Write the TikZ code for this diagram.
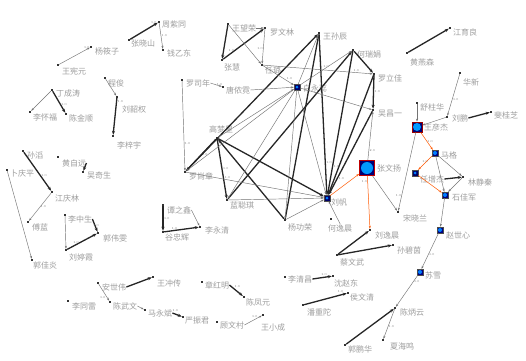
\documentclass[tikz,border=0pt]{standalone}
\usepackage{fontspec}
\newfontfamily\cjk{Noto Sans CJK SC}
\usetikzlibrary{arrows.meta}
\newcommand\mk[5][dot]{\node[#1] (#2) at (#3) {}; \node[lab] (#2t) at (#4) {#5};}
\begin{document}
\begin{tikzpicture}[x=1pt,y=-1pt,
  dot/.style={rectangle,fill=black!80,inner sep=0,minimum size=2pt},
  lab/.style={font=\cjk\fontsize{8}{8}\selectfont,text=black!38,anchor=west,inner sep=0},
  e/.style={draw=black!55,line width=0.45pt,-{Stealth[length=3pt,width=2pt]}},
  E/.style={draw=black!85,line width=1.3pt,-{Stealth[length=4pt,width=3pt]}},
  o/.style={draw=orange!70!red,line width=0.5pt,-{Stealth[length=3pt,width=2pt]}},
  el/.style={font=\fontsize{3}{3}\selectfont,text=black!60,inner sep=0.5pt},
  big/.style={rectangle,draw=red!75!black,line width=0.8pt,fill=blue!45!black,minimum size=15pt,inner sep=0,
    path picture={\fill[blue!40!cyan] (path picture bounding box.center) circle (6pt);}},
  mid/.style={rectangle,draw=red!60!black,line width=0.6pt,fill=blue!45!black,minimum size=10pt,inner sep=0,
    path picture={\fill[blue!40!cyan] (path picture bounding box.center) circle (4pt);}},
  sq/.style={rectangle,draw=black!70,line width=0.4pt,fill=blue!50!black,minimum size=6pt,inner sep=0,
    path picture={\fill[blue!50!cyan] (path picture bounding box.center) circle (2pt);}},
  sqs/.style={rectangle,draw=black!70,line width=0.4pt,fill=blue!40!black,minimum size=6pt,inner sep=0,
    path picture={\fill[blue!50!cyan] (path picture bounding box.center) circle (1.5pt);}}
]
\useasboundingbox[fill=white] (0,0) rectangle (526,360);
% ---------- nodes: top left
\mk{zxs}{129,40}{131,43}{张晓山}
\mk{zzt}{159,22}{162,24}{周紫同}
\mk{qyd}{163,50}{167,53}{钱乙东}
\mk{yxz}{91,47}{95,51}{杨筱子}
\mk{wxy}{58,65}{62,71}{王宪元}
\mk{dct}{52,90}{56,93}{丁成涛}
\mk{lhf}{30,112}{33,117}{李怀福}
\mk{cjs}{66,114}{69,118}{陈金顺}
\mk{cj}{105,78}{108,83}{程俊}
\mk{lsq}{117,97}{122,109}{刘韶权}
\mk{lzy}{113,136}{117,145}{李梓宇}
% top middle
\mk{wwr}{228,24}{232,28}{王望荣}
\mk{zh}{222,60}{224,67}{张慧}
\mk{rwl}{265,28}{270,32}{罗文林}
\mk{rl}{262,65}{265,70}{任璐}
\mk{ls}{182,80}{186,83}{罗司年}
\mk{tnn}{223,87}{226,90}{唐侬霓}
% centre
\mk{W}{319,33}{323,37}{王孙辰}
\mk{H}{353,50}{357,54}{何瑞娟}
\mk{L}{374,74}{378,78}{罗立佳}
\mk[sqs]{B}{297,87}{303,88}{白永蕊}
\mk{Wu}{373,110}{378,114}{吴昌一}
\mk{G}{217,138}{209,129}{高梦星}
\mk{S}{185,172}{189,176}{罗尚章}
\mk{Lan}{227,200}{230,205}{蓝聪琪}
\mk[sqs]{F}{327,198}{331,202}{刘帆}
\mk{Y}{285,220}{288,227}{杨功荣}
\mk{Sun}{331,219}{328,228}{何逸晨}
\mk[big]{Z}{367,168}{377,168}{张文扬}
\mk{Liu}{370,230}{375,235}{刘逸晨}
% right
\mk{jys}{450,28}{453,32}{江育良}
\mk{hys}{407,53}{410,62}{黄燕森}
\mk{hx}{460,73}{463,82}{华新}
\mk{szh}{417,103}{420,107}{舒柱华}
\mk{lp}{447,117}{452,118}{刘鹏}
\mk{fgz}{491,112}{494,115}{斐桂芝}
\mk[mid]{wyj}{417,127}{424,127}{王彦杰}
\mk[sq]{mg}{435,153}{441,155}{马格}
\mk[sqs]{rzj}{415,173}{420,179}{任增杰}
\mk{ljq}{463,177}{468,182}{林静秦}
\mk[sq]{sjj}{445,195}{452,197}{石佳军}
\mk[sq]{zsx}{440,230}{446,235}{赵世心}
\mk{sxl}{398,212}{403,218}{宋晓兰}
\mk{sbt}{393,245}{397,250}{孙碧茵}
\mk[sq]{sx}{420,272}{425,275}{苏雪}
\mk{cby}{395,308}{400,312}{陈炳云}
\mk{xhm}{383,340}{390,346}{夏海鸣}
\mk{gph}{345,345}{348,349}{郭鹏华}
\mk{cww}{337,255}{340,262}{蔡文武}
\mk{lqc}{285,277}{288,279}{李清昌}
\mk{szd}{333,276}{334,283}{沈赵东}
\mk{hwq}{348,293}{350,297}{侯文清}
\mk{pzt}{303,305}{307,312}{潘重陀}
% bottom left
\mk{zhm}{202,282}{205,285}{章红明}
\mk{cfy}{244,297}{246,302}{陈凤元}
\mk{wct}{153,277}{157,283}{王冲传}
\mk{msb}{145,310}{148,313}{马永斌}
\mk{yzj}{183,317}{185,320}{严振君}
\mk{gwc}{217,322}{220,325}{顾文村}
\mk{wxc}{263,315}{261,327}{王小成}
\mk{asw}{98,283}{102,287}{安世伟}
\mk{ltl}{68,301}{72,306}{李同雷}
\mk{cwx}{110,302}{113,306}{陈武文}
% left middle
\mk{st}{23,151}{27,155}{孙滔}
\mk{hzy}{58,157}{62,163}{黄自远}
\mk{wqs}{83,172}{87,175}{吴奇生}
\mk{bqp}{7,170}{10,173}{卜庆平}
\mk{jql}{52,192}{55,198}{江庆林}
\mk{fl}{28,222}{32,227}{傅蓝}
\mk{gjy}{32,260}{33,265}{郭佳炎}
\mk{lzs}{65,215}{68,219}{李中生}
\mk{lty}{66,250}{69,257}{刘婷霞}
\mk{gww}{98,233}{103,238}{郭伟雯}
\mk{tzx}{163,205}{167,210}{谭之鑫}
\mk{gzh}{163,232}{165,237}{谷忠辉}
\mk{lyq}{200,227}{205,230}{李永清}
% ---------- edges
\draw[E] (zxs) -- node[el,pos=.85,above]{1.0} (zzt);
\draw[e] (zzt) -- node[el,pos=.5,right]{1.0} (qyd);
\draw[e] (wxy) -- node[el,pos=.9,above]{1.0} (yxz);
\draw[e] (dct) -- (lhf);
\draw[E] (dct) -- node[el,pos=.6,right]{1.0} (cjs);
\draw[e] (cj) -- (lsq);
\draw[E] (lsq) -- node[el,pos=.1,right]{1.0} (lzy);
\draw[E] (wwr) -- (zh);
\draw[E] (zh) -- node[el,pos=.2,above]{1.0} (rwl);
\draw[e] (wwrt.east) -- (rwl);
\draw[e] (wwr) -- (rl);
\draw[e] (rwl) -- node[el,pos=.55,left]{1.0} (rl);
\draw[e] (lst.east) -- node[el,pos=.8,above]{1.0} (tnn);
\draw[e] (ls) -- node[el,pos=.7,right]{1.0} (S);
% centre web
\draw[E] (G) -- node[el,pos=.5,right]{1.0} (S);
\draw[E] (G) -- node[el,pos=.5,right]{1.0} (Lan);
\draw[E] (S) -- (W);
\draw[E] (Lan) -- (H);
\draw[E] (G) -- (F);
\draw[E] (W) -- node[el,pos=.8,right]{1.0} (F);
\draw[E] (H) -- node[el,pos=.8,right]{1.0} (F);
\draw[E] (L) -- (F);
\draw[E] (Wu) -- node[el,pos=.8,right]{1.0} (F);
\draw[E] (H) -- (L);
\draw[E] (L) -- node[el,pos=.5,right]{1.0} (Wu);
\draw[E] (Y) -- (G);
\draw[E] (Y) -- (W);
\draw[e] (S) -- node[el,pos=.3,above]{1.0} (F);
\draw[e] (Lan) -- (F);
\draw[e] (B) -- (S);
\draw[e] (B) -- (Lan);
\draw[e] (B) -- (Y);
\draw[e] (B) -- (F);
\draw[e] (B) -- (W);
\draw[e] (B) -- node[el,pos=.5,above]{1.0} (H);
\draw[e] (G) -- (B);
\draw[e] (rl) -- node[el,pos=.75,above right]{1.0} (B);
\draw[e] (rl) -- node[el,pos=.85,above]{1.0} (L);
\draw[e] (tnnt.east) -- (B);
\draw[e] (Y) -- (F);
\draw[e] (Sunt.north) -- (F);
\draw[e] (B) -- (Wu);
\draw[o] (F) -- (Z);
\draw[o] (Z) -- node[el,pos=.1,left]{1.0} (Liu);
\draw[e] (Z) -- node[el,pos=.2,right]{2.0} (Wu);
\draw[e] (Z) -- (sxl);
% right
\draw[E] (hys) -- (jys);
\draw[e] (hx) -- node[el,pos=.6,right]{1.0} (lp);
\draw[E] (lpt.east) -- (fgz);
\draw[e] (szh) -- (wyj);
\draw[e] (lp) -- (wyj);
\draw[o] (wyj) -- node[el,pos=.5,right]{1.0} (mg);
\draw[o] (mg) -- node[el,pos=.5,above]{1.0} (rzj);
\draw[o] (rzj) -- (sjj);
\draw[e] (mg) -- (ljq);
\draw[e] (ljq) -- (sjj);
\draw[e] (mg) -- (sjj);
\draw[E] (rzjt.east) -- (ljq);
\draw[e] (sjj) -- (zsx);
\draw[e] (wyj) -- node[el,pos=.8,left]{1.0} (sxl);
\draw[e] (zsx) -- node[el,pos=.6,right]{1.0} (sx);
\draw[e] (sx) -- node[el,pos=.2,right]{1.0} (cby);
\draw[e] (cby) -- node[el,pos=.6,right]{1.0} (xhm);
\draw[E] (gph) -- (cby);
\draw[E] (cww) -- (Liu);
\draw[E] (cww) -- (sbt);
\draw[E] (lqct.east) -- node[el,pos=.6,above=1pt]{1.0} (szd);
\draw[E] (pzt) -- node[el,pos=.85,above=1pt]{1.0} (hwq);
% bottom left
\draw[E] (zhmt.east) -- node[el,pos=.3,above right]{1.0} (cfy);
\draw[E] (aswt.east) -- (wct);
\draw[e] (asw) -- node[el,pos=.8,left=1pt]{1.0} (cwx);
\draw[e] (cwxt.east) -- (msb);
\draw[E] (msbt.east) -- node[el,pos=.3,above=1pt]{1.0} (yzj);
\draw[e] (gwct.east) -- node[el,pos=.6,above=1pt]{1.0} (wxc);
% left middle
\draw[E] (st) -- node[el,pos=.6,right]{1.0} (jql);
\draw[e] (jql) -- node[el,pos=.5,right]{1.0} (fl);
\draw[e] (bqp) -- (gjy);
\draw[E] (hzyt.east) -- (wqs);
\draw[e] (lzs) -- (lty);
\draw[E] (lty) -- node[el,pos=.3,above]{1.0} (gww);
\draw[E] (lzst.east) -- node[el,pos=.7,above]{1.0} (gww);
\draw[E] (tzx) -- node[el,pos=.5,right]{1.0} (gzh);
\draw[e] (tzxt.east) -- (lyq);
\draw[E] (gzh) -- node[el,pos=.3,above]{1.0} (lyq);
\end{tikzpicture}
\end{document}
